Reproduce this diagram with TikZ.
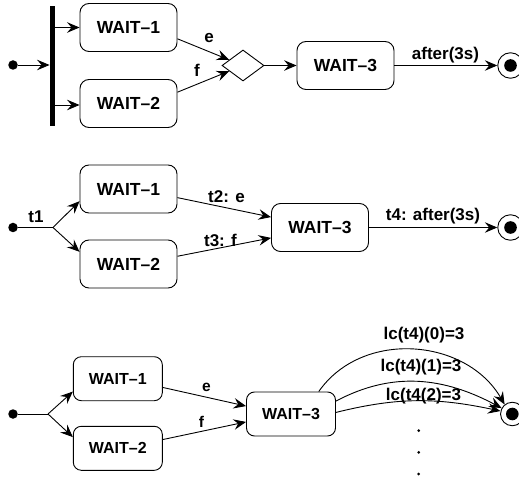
\documentclass[tikz,border=0pt]{standalone}
\usepackage{fontspec}
\setmainfont{Liberation Sans}
\usetikzlibrary{arrows.meta,shapes.geometric,calc}
\begin{document}
\begin{tikzpicture}[x=1pt,y=1pt,
  line width=0.9pt,
  >={Stealth[length=12.5pt,width=10.5pt,inset=4.5pt]},
  state/.style={draw, rounded corners=9pt, minimum width=97pt, minimum height=48pt, inner sep=0pt, font=\fontsize{17.5}{19}\selectfont\bfseries},
  sstate/.style={state, minimum width=89pt, minimum height=44pt, rounded corners=8pt, font=\fontsize{16}{18}\selectfont\bfseries},
  lbl/.style={inner sep=0pt, font=\fontsize{17}{19}\selectfont\bfseries},
  slbl/.style={inner sep=0pt, font=\fontsize{15.5}{18}\selectfont\bfseries},
  startdot/.style={circle, fill, draw=none, inner sep=0pt, minimum size=9.5pt},
  endstate/.style={circle, draw, inner sep=0pt, minimum size=#1,
     path picture={\fill (path picture bounding box.center) circle (6.3pt);}},
  endstate/.default=25.5pt,
  forkbar/.style={fill, draw=none, inner sep=0pt, minimum width=5pt, minimum height=120pt},
  choice/.style={diamond, draw, inner sep=0pt, minimum width=42pt, minimum height=31pt},
  smalldot/.style={circle, fill, draw=none, inner sep=0pt, minimum size=3pt}
]
\useasboundingbox (0,0) rectangle (519,-478);

% ---------- top ----------
\node[startdot] (s1) at (13,-65) {};
\node[forkbar] (bar) at (52.5,-66) {};
\node[state] (w11) at (128.5,-27.5) {WAIT–1};
\node[state] (w12) at (128.5,-103.5) {WAIT–2};
\node[choice] (d) at (243,-65.5) {};
\node[state] (w13) at (345.5,-65.5) {WAIT–3};
\node[endstate] (e1) at (510.5,-65.5) {};
\draw[->] (s1) -- (s1 -| bar.west);
\draw[->] (bar.east |- w11) -- (w11.west);
\draw[->] ($(bar.east |- w12)+(0,-1.5)$) -- ($(w12.west)+(0,-1.5)$);
\draw[->] (w11.-13) -- (d);
\draw[->] (w12.13) -- (d);
\draw[->] (d.east) -- (w13.west);
\draw[->] (w13) -- (e1);
\node[lbl] (le1) at (209,-38.5) {e};
\node[lbl] (lf1) at (197,-70.5) {f};
\node[lbl] (la1) at (445.5,-55.5) {after(3s)};

% ---------- middle ----------
\node[startdot] (s2) at (13,-227.5) {};
\coordinate (b2) at (53,-227.5);
\node[state] (w21) at (128.5,-189) {WAIT–1};
\node[state] (w22) at (128.5,-264) {WAIT–2};
\node[state] (w23) at (320,-227.5) {WAIT–3};
\node[endstate] (e2) at (510.5,-227.5) {};
\draw (s2) -- (b2);
\draw[->] (b2) -- (w21.194);
\draw[->] (b2) -- (w22.166);
\draw[->] (w21.-10) -- (w23.168);
\draw[->] (w22.9) -- (w23.192);
\draw[->] (w23) -- (e2);
\node[lbl] (lt1) at (36,-217) {t1};
\node[lbl] (lt2) at (226.5,-196.5) {t2: e};
\node[lbl] (lt3) at (220.5,-240.5) {t3: f};
\node[lbl] (lt4) at (433,-216.5) {t4: after(3s)};

% ---------- bottom ----------
\node[startdot] (s3) at (13,-414) {};
\coordinate (b3) at (48,-414);
\node[sstate] (w31) at (117.8,-378.7) {WAIT–1};
\node[sstate] (w32) at (117.8,-448.3) {WAIT–2};
\node[sstate] (w33) at (291,-414) {WAIT–3};
\node[endstate=23.5pt] (e3) at (512.3,-414) {};
\draw (s3) -- (b3);
\draw[->] (b3) -- (w31.196);
\draw[->] (b3) -- (w32.166);
\draw[->] (w31.-11) -- (w33.170);
\draw[->] (w32.11) -- (w33.190);
\draw[->] (w33.39) to[out=55,in=120,looseness=1.05] (e3.129);
\draw[->] (w33.16) to[out=28,in=152] (e3.151);
\draw[->] (w33.2) to[out=14,in=168] (e3.166);
\node[slbl] (le3) at (206.5,-387) {e};
\node[slbl] (lf3) at (201.5,-422) {f};
\node[lbl] (lc0) at (424,-335) {lc(t4)(0)=3};
\node[lbl] (lc1) at (421,-367.5) {lc(t4)(1)=3};
\node[lbl] (lc2) at (423.5,-396.5) {lc(t4(2)=3};
\node[smalldot] (v1) at (418.7,-430.7) {};
\node[smalldot] (v2) at (418.7,-452.3) {};
\node[smalldot] (v3) at (418.7,-474) {};
\end{tikzpicture}
\end{document}
